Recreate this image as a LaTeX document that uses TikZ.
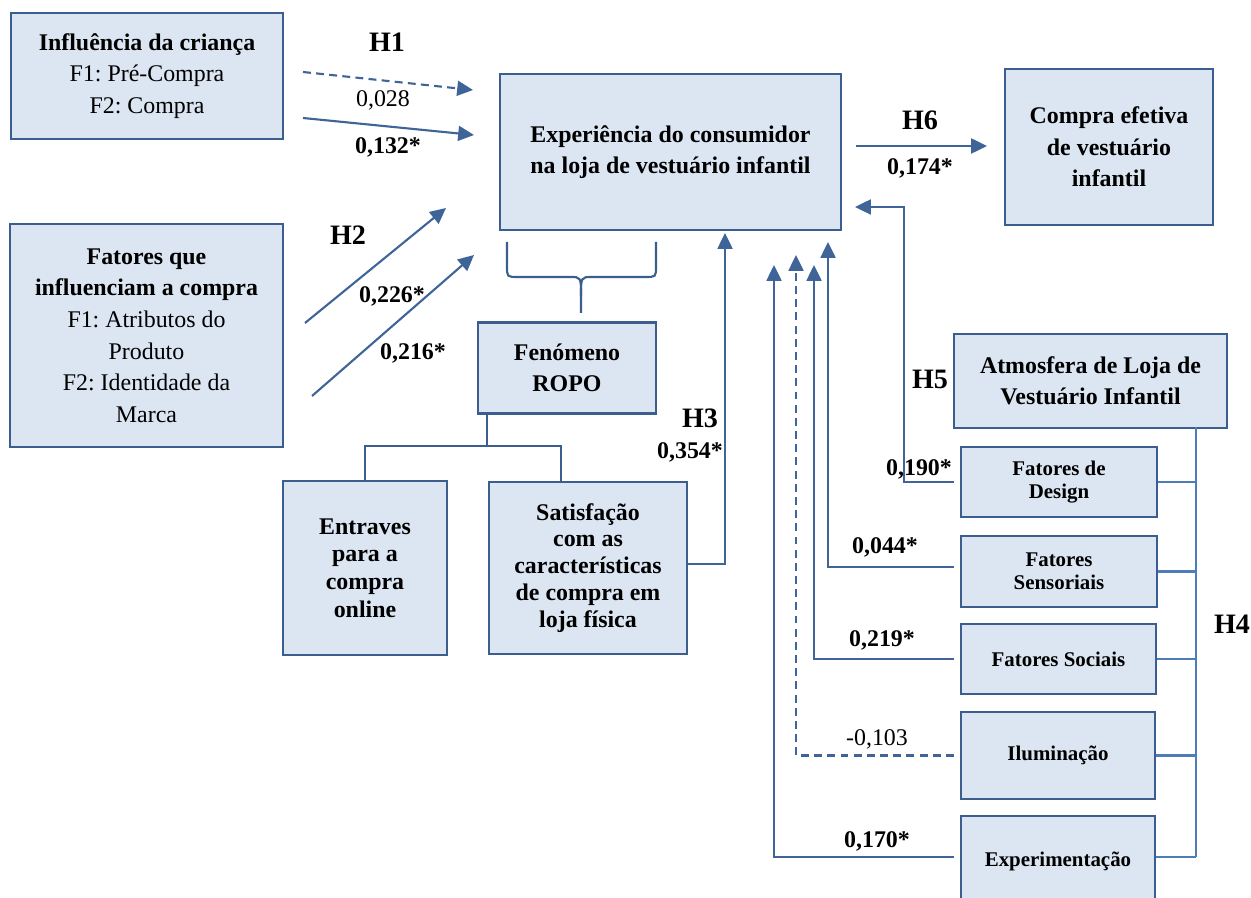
\documentclass[tikz,border=0pt]{standalone}
\usepackage{fontspec}
\setmainfont{Liberation Serif}
\usetikzlibrary{arrows.meta}
\frenchspacing
\definecolor{boxfill}{RGB}{220,230,242}
\definecolor{boxline}{RGB}{59,94,142}
\definecolor{arrline}{RGB}{62,100,152}
\definecolor{barline}{RGB}{78,124,184}
\tikzset{
    blk/.style={draw=boxline,fill=boxfill,line width=1.3pt,align=center,inner sep=0pt,
        font=\bfseries\fontsize{13.6}{18}\selectfont},
    smallblk/.style={blk,font=\bfseries\fontsize{11.9}{13}\selectfont},
    arr/.style={draw=arrline,line width=1.2pt,-{Triangle[length=9pt,width=8.5pt]}},
    dashln/.style={dash pattern=on 4.5pt off 3pt},
    tree/.style={draw=boxline,line width=1.2pt},
    bar/.style={draw=barline,line width=1.2pt},
    val/.style={font=\bfseries\fontsize{13.6}{16}\selectfont},
    hyp/.style={font=\bfseries\fontsize{16}{18}\selectfont}
}
\begin{document}
\begin{tikzpicture}[x=0.02cm,y=-0.02cm]
    \useasboundingbox (0,0) rectangle (1251,898);
    \node [blk,minimum width=5.44cm,minimum height=2.52cm] (crianca) at (147,76)
        {Influência da criança\\{\mdseries F1: Pré-Compra}\\{\mdseries F2: Compra}};
    \node [blk,minimum width=5.46cm,minimum height=4.46cm] (fatores) at (146.5,335.5)
        {Fatores que\\influenciam a compra\\{\mdseries F1: Atributos do}\\{\mdseries Produto}\\{\mdseries F2: Identidade da}\\{\mdseries Marca}};
    \node [blk,minimum width=6.82cm,minimum height=3.12cm] (experiencia) at (670.5,152)
        {Experiência do consumidor\\na loja de vestuário infantil};
    \node [blk,minimum width=4.16cm,minimum height=3.12cm] (compra) at (1109,147)
        {Compra efetiva\\de vestuário\\infantil};
    \node [blk,minimum width=3.56cm,minimum height=1.82cm] (ropo) at (567,368)
        {Fenómeno\\ROPO};
    \node [blk,minimum width=3.28cm,minimum height=3.48cm,font=\bfseries\fontsize{13.6}{15.7}\selectfont] (entraves) at (365,568)
        {Entraves\\para a\\compra\\online};
    \node [blk,minimum width=3.96cm,minimum height=3.44cm,font=\bfseries\fontsize{13.6}{15.3}\selectfont] (satisf) at (588,568)
        {Satisfação\\com as\\características\\de compra em\\loja física};
    \node [blk,minimum width=5.46cm,minimum height=1.88cm,font=\bfseries\fontsize{13.6}{17.6}\selectfont] (atmosfera) at (1090.5,381)
        {Atmosfera de Loja de\\Vestuário Infantil};
    \node [smallblk,minimum width=3.92cm,minimum height=1.4cm] (design) at (1059,482) {Fatores de\\Design};
    \node [smallblk,minimum width=3.92cm,minimum height=1.42cm] (sensoriais) at (1059,571.5) {Fatores\\Sensoriais};
    \node [smallblk,minimum width=3.9cm,minimum height=1.4cm] (sociais) at (1058.5,659) {Fatores Sociais};
    \node [smallblk,minimum width=3.88cm,minimum height=1.74cm] (ilum) at (1058,755.5) {Iluminação};
    \node [smallblk,minimum width=3.88cm,minimum height=1.8cm] (experim) at (1058,861) {Experimentação};

    \coordinate (h1s1) at (303,72);  \coordinate (h1e1) at (473,90);
    \coordinate (h1s2) at (303,118); \coordinate (h1e2) at (474,135);
    \coordinate (h2s1) at (305,323); \coordinate (h2e1) at (446,208);
    \coordinate (h2s2) at (312,396); \coordinate (h2e2) at (474,255);
    \coordinate (h6s) at (856,146);  \coordinate (h6e) at (987,146);
    \coordinate (fork) at (487,446);
    \coordinate (bartop) at (1196,427);
    \coordinate (barbot) at (1196,857);

    \draw [arr,dashln] (h1s1) -- (h1e1);
    \draw [arr] (h1s2) -- (h1e2);
    \draw [arr] (h2s1) -- (h2e1);
    \draw [arr] (h2s2) -- (h2e2);
    \draw [arr] (h6s) -- (h6e);

    \draw [tree] (507,242) -- (507,266) .. controls (507,277) .. (518,277) -- (570,277)
        .. controls (581,277) .. (581,296) -- (581,313);
    \draw [tree] (656,242) -- (656,266) .. controls (656,277) .. (645,277) -- (592,277)
        .. controls (581,277) .. (581,296);
    \draw [tree] (fork |- ropo.south) -- (fork);
    \draw [tree] (entraves.north) |- (fork) -| (561,482);

    \draw [arr] (satisf.east |- 0,564) -| (725,233);
    \draw [arr] ([xshift=-0.12cm]design.west) -| (904,207) -- (855,207);
    \draw [arr] ([xshift=-0.12cm,yshift=0.09cm]sensoriais.west) -| (828,242);
    \draw [arr] ([xshift=-0.12cm]sociais.west) -| (814,265);
    \draw [arr,dashln] ([xshift=-0.12cm]ilum.west) -| (796,255);
    \draw [arr] ([xshift=-0.12cm,yshift=0.08cm]experim.west) -| (774,265);

    \draw [bar] (bartop) -- (barbot);
    \foreach \b in {design,sensoriais,sociais,ilum} {
        \draw [bar] (\b.east) -- (\b.east -| bartop);
    }
    \draw [bar] (experim.east |- barbot) -- (barbot);

    \node [hyp] (lh1) at (387,42) {H1};
    \node [font=\fontsize{13.6}{16}\selectfont] (v1a) at (383,100) {0,028};
    \node [val] (v1b) at (388,147) {0,132*};
    \node [hyp] (lh2) at (348,235) {H2};
    \node [val] (v2a) at (392,296) {0,226*};
    \node [val] (v2b) at (413,353) {0,216*};
    \node [hyp] (lh6) at (920,120) {H6};
    \node [val] (v6) at (920,168) {0,174*};
    \node [hyp] (lh3) at (700,418) {H3};
    \node [val] (v3) at (690,452) {0,354*};
    \node [hyp] (lh5) at (930,379) {H5};
    \node [val] (v5a) at (919,469) {0,190*};
    \node [val] (v5b) at (885,547) {0,044*};
    \node [val] (v5c) at (882,640) {0,219*};
    \node [font=\fontsize{13.6}{16}\selectfont] (v5d) at (877,739) {-0,103};
    \node [val] (v5e) at (877,841) {0,170*};
    \node [hyp] (lh4) at (1232,624) {H4};
\end{tikzpicture}
\end{document}
